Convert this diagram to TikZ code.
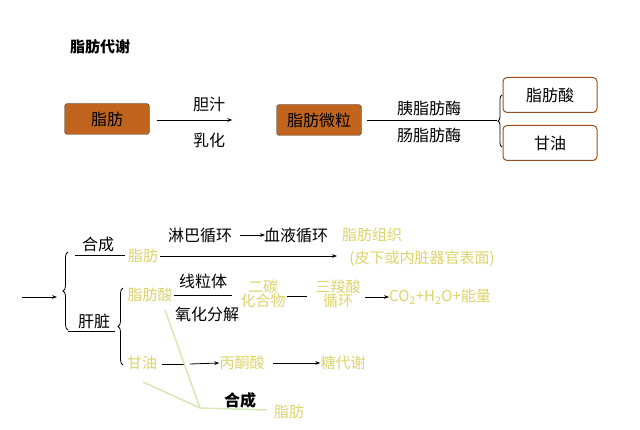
\documentclass[tikz,border=0pt]{standalone}
\usepackage{fontspec}
\setmainfont{Noto Sans CJK SC}
\usetikzlibrary{arrows.meta,decorations.pathreplacing}
\definecolor{yel}{HTML}{DDD36A}
\definecolor{org}{HTML}{C0641E}
\definecolor{grn}{HTML}{D6E8B4}
\tikzset{
 obox/.style={draw=black!70,fill=org,rounded corners=3pt,minimum width=85pt,minimum height=31pt,font=\fontsize{16}{16}\selectfont,text=black},
 wbox/.style={draw=org!80!black,line width=1pt,rounded corners=4pt,minimum width=94pt,minimum height=35pt,font=\fontsize{16}{16}\selectfont},
 bt/.style={font=\fontsize{16}{16}\selectfont,inner sep=0},
 yt/.style={font=\fontsize{15}{15}\selectfont,text=yel,inner sep=0},
 arr/.style={-{Stealth[length=5pt]},line width=0.8pt},
 ln/.style={line width=0.8pt},
 gl/.style={grn,line width=1.5pt}
}
\begin{document}
\begin{tikzpicture}[x=1pt,y=-1pt]
\useasboundingbox (0,0) rectangle (640,430);
\node[bt,font=\fontsize{15}{15}\selectfont\bfseries] (title) at (100,47) {脂肪代谢};
\node[obox] (fat) at (107,119) {脂肪};
\node[obox] (fw) at (319,120) {脂肪微粒};
\draw[arr] ([xshift=7pt,yshift=-1pt]fat.east) -- ([xshift=-44pt]fw.west);
\node[bt] (dz) at (209,104) {胆汁};
\node[bt] (rh) at (209,140) {乳化};
\coordinate (e0) at (367,120); \coordinate (e1) at (497,120);
\draw[ln] (e0) -- (e1);
\node[bt] (yz) at (429,108) {胰脂肪酶};
\node[bt] (cz) at (429,135) {肠脂肪酶};
\node[wbox] (fa) at (550,95) {脂肪酸};
\node[wbox] (gy) at (550,143) {甘油};
\draw[ln,decorate,decoration={brace,amplitude=4pt}] (502,147) -- (502,95);

% bottom
\coordinate (s0) at (22,297); \coordinate (s1) at (57,297);
\draw[arr] (s0) -- (s1);
\draw[ln,decorate,decoration={brace,amplitude=5pt}] (68,330) -- (68,252);
\coordinate (h1) at (75,255); \coordinate (h2) at (125,255);
\draw[ln] (h1) -- (h2);
\node[bt] (hc) at (98,244) {合成};
\coordinate (g1) at (68,331); \coordinate (g2) at (115,331);
\draw[ln] (g1) -- (g2);
\node[bt] (gz) at (94,321) {肝脏};
\node[yt] (zf1) at (143,256) {脂肪};
\node[yt] (zz) at (372,235) {脂肪组织};
\node[yt] (px) at (422,259) {(皮下或内脏器官表面)};
\coordinate (t1) at (160,256); \coordinate (t2) at (337,256);
\draw[arr] (t1) -- (t2);
\node[bt] (lb) at (200,235) {淋巴循环};
\node[bt] (xy) at (296,235) {血液循环};
\coordinate (l1) at (240,235); \coordinate (l2) at (265,235);
\draw[arr] (l1) -- (l2);
\draw[ln,decorate,decoration={brace,amplitude=5pt}] (123,365) -- (123,288);
\node[yt] (zfs) at (150,295) {脂肪酸};
\node[bt] (xl) at (203,281) {线粒体};
\node[bt] (yh) at (207,314) {氧化分解};
\node[yt,align=center] (ec) at (263,294) {二碳\\[-1pt]化合物};
\node[yt,align=center] (sq) at (338,294) {三羧酸\\[-1pt]循环};
\node[yt] (co) at (440,297) {CO\textsubscript{2}+H\textsubscript{2}O+能量};
\coordinate (x1) at (174,295); \coordinate (x2) at (232,295);
\draw[ln] (x1) -- (x2);
\coordinate (x3) at (287,296); \coordinate (x4) at (307,296);
\draw[ln] (x3) -- (x4);
\coordinate (x5) at (365,297);
\draw[arr] (x5) -- (co.west);
\node[yt] (gy2) at (142,363) {甘油};
\node[yt] (bt2) at (242,363) {丙酮酸};
\node[yt] (tm) at (343,363) {糖代谢};
\coordinate (y1) at (162,364); \coordinate (y2) at (185,364); \coordinate (y3) at (190,364);
\draw[ln] (y1) -- (y2);
\draw[arr] (y3) -- (bt2.west);
\coordinate (y4) at (273,363);
\draw[arr] (y4) -- (tm.west);
\coordinate (m) at (200,408);
\coordinate (gA) at (165,310); \coordinate (gB) at (143,382); \coordinate (gC) at (267,410);
\draw[gl] (gA) -- (m);
\draw[gl] (gB) -- (m);
\draw[gl] (m) -- (gC);
\node[bt,font=\fontsize{16}{16}\selectfont\bfseries] (hc2) at (240,400) {合成};
\node[yt] (zf2) at (289,412) {脂肪};
\end{tikzpicture}
\end{document}
